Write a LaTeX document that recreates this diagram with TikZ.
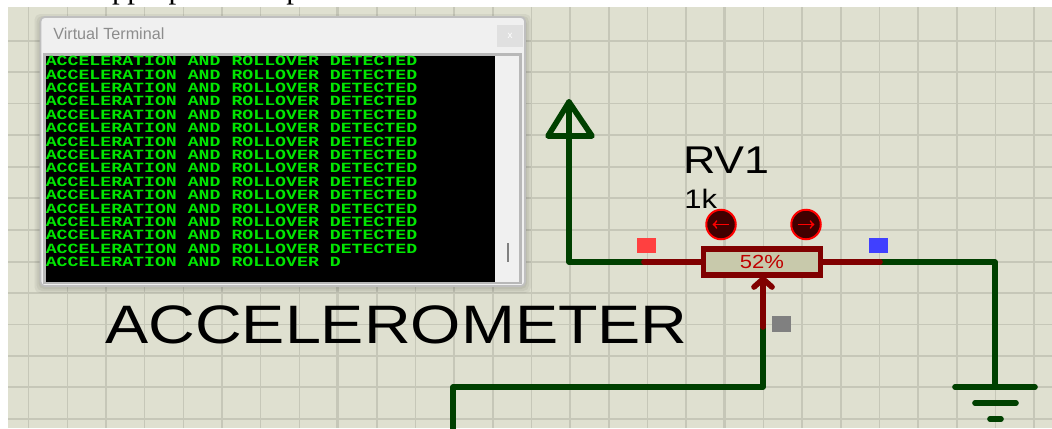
\documentclass[tikz,border=0pt]{standalone}
\usepackage{fontspec}
\setmainfont{Liberation Sans}
\newfontfamily\serifcut{Liberation Serif}
\newfontfamily\termfont[FakeStretch=1.295]{Liberation Mono}
\newfontfamily\widefont[FakeStretch=1.16]{Liberation Sans}
\newfontfamily\widerfont[FakeStretch=1.195]{Liberation Sans}
\definecolor{sheet}{HTML}{DFE0D0}
\definecolor{gridline}{HTML}{C6C7B8}
\definecolor{wiregreen}{HTML}{004000}
\definecolor{wirered}{HTML}{800000}
\definecolor{potfill}{HTML}{C8C9AB}
\definecolor{termgreen}{HTML}{00E600}
\definecolor{jogfill}{HTML}{400000}
\tikzset{
    wire/.style={line width=4pt, line cap=round, line join=round, color=wiregreen},
    pinwire/.style={wire, color=wirered},
    pinmark/.style={minimum width=13pt, minimum height=11pt, inner sep=0pt},
    jog/.style={circle, minimum size=21pt, inner sep=0pt, line width=1.4pt, draw=red, fill=jogfill},
    termline/.style={anchor=west, inner sep=0pt, text=termgreen, font=\termfont\bfseries\fontsize{10}{11}\selectfont}
}
\begin{document}
\begin{tikzpicture}[x=0.025cm, y=-0.025cm]
    \useasboundingbox (0,0) rectangle (1052,428);
    \fill[white] (0,0) rectangle (1052,428);
    \node[anchor=base west, inner sep=0pt, font=\serifcut\fontsize{22}{24}\selectfont] (cuttext) at (98,-1.5) {appropriate output};

    % schematic sheet
    \fill[sheet] (8,7) rectangle (1052,428);
    \foreach \k in {0,...,26} {
        \draw[gridline, line width=1.1pt] ({28.7+38.67*\k},7) -- ({28.7+38.67*\k},428);
    }
    \foreach \y in {41,72,103.5,135,167,198,230,262,293,324.5,356,387,419} {
        \draw[gridline, line width=1.1pt] (8,\y) -- (1052,\y);
    }
    \draw[gridline, line width=1.8pt] (337,7) -- (337,428);
    \draw[gridline, line width=1.8pt] (724,7) -- (724,428);
    \draw[gridline, line width=1.8pt] (8,387) -- (1052,387);

    % terminal window
    \foreach \o in {6,4,2} {
        \fill[black, opacity=0.05, rounded corners=4] (40.5-\o,17-\o+3) rectangle (525+\o,286+\o+1);
    }
    \draw[fill=black!6, draw=black!25, line width=1.2pt, rounded corners=3] (40.5,17) rectangle (525,286);
    \fill[black!12] (497,25) rectangle (523,46.5);
    \node[white, font=\fontsize{7}{8}\selectfont] (closex) at (510,36) {x};
    \node[anchor=west, inner sep=0pt, text=black!45, font=\fontsize{11.5}{13}\selectfont] (title) at (53,34) {Virtual Terminal};
    \fill[black!28] (43,53) rectangle (522,283.5);
    \fill[black!6] (495,55.7) rectangle (519,281.7);
    \fill[black] (45.6,55.7) rectangle (495,281.7);
    \fill[black!50] (507.3,243) rectangle (509,262);
    \foreach[count=\n from 0] \l in {1,...,15} {
        \node[termline] (line\l) at (45.5,{61+13.4*\n}) {ACCELERATION AND ROLLOVER DETECTED};
    }
    \node[termline] (line16) at (45.5,262) {ACCELERATION AND ROLLOVER D};

    \node[anchor=base west, inner sep=0pt, font=\widerfont\fontsize{38.5}{40}\selectfont] (accel) at (105,343) {ACCELEROMETER};

    % potentiometer
    \coordinate (vcc) at (569,102);
    \coordinate (vccleft) at (548,136);
    \coordinate (vccright) at (592,136);
    \coordinate (corner) at (569,262);
    \coordinate (pinl) at (644,262);
    \coordinate (pinr) at (880,262);
    \coordinate (gndtop) at (995,262);
    \coordinate (gnd) at (995,387);
    \coordinate (wiperpin) at (763,327);
    \coordinate (wiperlow) at (763,387);
    \coordinate (busleft) at (453,387);
    \coordinate (busend) at (453,430);

    \draw[wire] (vcc) -- (corner) -- (pinl);
    \draw[wire] (vccleft) -- (vcc) -- (vccright) -- cycle;
    \draw[wire] (pinr) -- (gndtop) -- (gnd);
    \draw[wire] (wiperpin) -- (wiperlow) -- (busleft) -- (busend);
    \draw[wire] (955,387) -- (1035,387);
    \draw[wire] (975,403) -- (1016,403);
    \draw[wire] (990,419) -- (1001,419);

    \node[
        rectangle,
        draw=wirered,
        fill=potfill,
        line width=4pt,
        minimum width=83pt,
        minimum height=18.5pt,
        inner sep=0pt,
        text=red!75!black,
        font=\widefont\fontsize{13.5}{14}\selectfont
    ] (rv) at (762,262) {52\%};
    \draw[pinwire] (pinl) -- (rv.west);
    \draw[pinwire] (rv.east) -- (pinr);
    \coordinate (wipertip) at (763,279);
    \draw[pinwire] (wiperpin) -- (wipertip);
    \draw[pinwire] (754,287) -- (wipertip) -- (772,287);

    \node[pinmark, fill={rgb,255:red,255;green,64;blue,64}] (pinred) at (646.5,245.5) {};
    \node[pinmark, fill={rgb,255:red,64;green,64;blue,255}] (pinblue) at (878.5,245.5) {};
    \node[pinmark, fill=black!50, minimum height=11.5pt] (pingray) at (781.5,324) {};

    \node[jog] (jogleft) at (721,224.5) {};
    \node[jog] (jogright) at (806,224.5) {};
    \draw[red, line width=1.2pt, <-, >=to] ([xshift=-6pt]jogleft.center) -- ([xshift=6pt]jogleft.center);
    \draw[red, line width=1.2pt, ->, >=to] ([xshift=-6pt]jogright.center) -- ([xshift=6pt]jogright.center);

    \node[anchor=base west, inner sep=0pt, font=\widefont\fontsize{27.5}{30}\selectfont] (rvname) at (683,173) {RV1};
    \node[anchor=base west, inner sep=0pt, font=\widefont\fontsize{19}{21}\selectfont] (rvvalue) at (684,208) {1k};
\end{tikzpicture}
\end{document}
